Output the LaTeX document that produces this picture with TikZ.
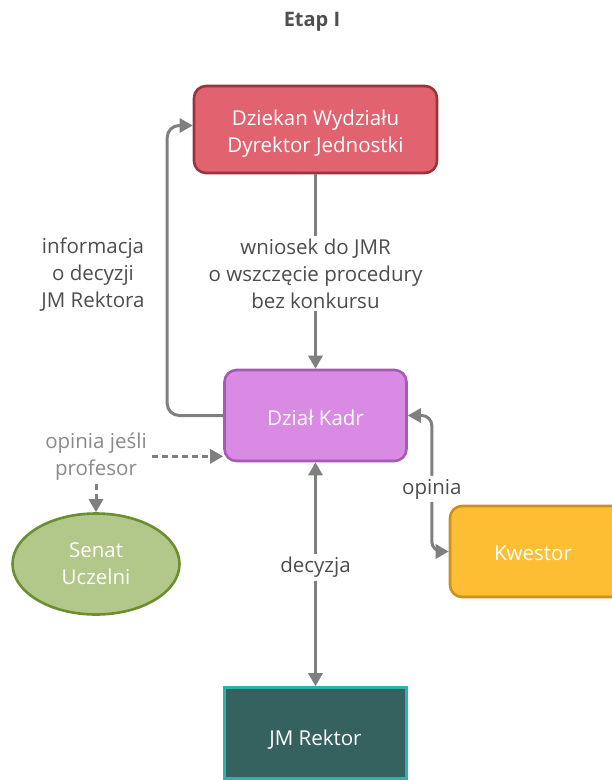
\documentclass[tikz,border=0pt]{standalone}
\usepackage{fontspec}
\setmainfont{Open Sans}
\usetikzlibrary{arrows.meta,shapes.geometric}
\definecolor{conn}{HTML}{7F7F7F}
\definecolor{lblc}{HTML}{4D4D4D}
\definecolor{lblgray}{HTML}{8A8A8A}
\definecolor{titlec}{HTML}{505050}
\definecolor{dzfill}{HTML}{E0636F}
\definecolor{dzdraw}{HTML}{99333E}
\definecolor{kdfill}{HTML}{D98AE3}
\definecolor{kddraw}{HTML}{A35BB3}
\definecolor{kwfill}{HTML}{FDBE33}
\definecolor{kwdraw}{HTML}{C8901F}
\definecolor{snfill}{HTML}{B2C78A}
\definecolor{sndraw}{HTML}{6B8E2F}
\definecolor{rkfill}{HTML}{35615E}
\definecolor{rkdraw}{HTML}{2DB3AE}
\newcommand{\lowr}[2]{\raisebox{-#1}[\height][\depth]{#2}}
\tikzset{
  box/.style={draw, line width=2.6pt, rounded corners=12pt, text=white, align=center,
    minimum width=182pt, minimum height=91pt, inner sep=0pt},
  conn/.style={draw=conn, line width=3pt, >={Triangle[length=13pt,width=14pt]}},
  lbl/.style={fill=white, text=lblc, align=center, inner sep=3pt},
  lblg/.style={fill=white, text=lblgray, align=center, inner sep=3pt},
}
\begin{document}
\begin{tikzpicture}[x=1pt,y=-1pt, font=\fontsize{20.5}{27}\selectfont]
\useasboundingbox (0,0) rectangle (612,780);
\node[font=\bfseries\fontsize{20}{22}\selectfont, text=titlec] (title) at (312,22) {Etap I};
\node[box, fill=dzfill, draw=dzdraw, minimum width=243pt, minimum height=87pt] (dz) at (315.5,129.5)
  {\lowr{4pt}{\begin{tabular}{@{}c@{}}Dziekan Wydziału\\Dyrektor Jednostki\end{tabular}}};
\node[box, fill=kdfill, draw=kddraw] (kadr) at (315.5,415.5) {\lowr{2pt}{Dział Kadr}};
\node[box, fill=kwfill, draw=kwdraw] (kw) at (541,551.5) {\hspace*{-16pt}\lowr{2pt}{Kwestor}};
\node[box, fill=rkfill, draw=rkdraw, rounded corners=0pt] (rk) at (315.5,733) {\lowr{7pt}{JM Rektor}};
\node[draw=sndraw, fill=snfill, line width=2.6pt, ellipse, minimum width=167pt, minimum height=101pt,
  inner sep=0pt, text=white, align=center] (sn) at (96,564) {Senat\\Uczelni};

\draw[conn,->] (dz.south) -- node[lbl,pos=0.51]{wniosek do JMR\\o wszczęcie procedury\\bez konkursu} (kadr.north);
\draw[conn,->,rounded corners=12pt] (kadr.west) -- ++(-56,0) |- ([yshift=4pt]dz.west);
\node[text=lblc, align=center] (info) at (93,275) {informacja\\o decyzji\\JM Rektora};
\draw[conn,<->,dash pattern=on 6pt off 4pt] (sn.north) |- node[pos=0.5,lblg]{opinia jeśli\\profesor} ([yshift=6pt]kadr.south west);
\draw[conn,<->] (kadr.south) -- node[lbl,pos=0.47]{decyzja} (rk.north);
\draw[conn,<->,rounded corners=10pt] (kadr.east) -- ++(24,0) |- node[pos=0.27,lbl]{opinia} (kw.west);
\end{tikzpicture}
\end{document}
